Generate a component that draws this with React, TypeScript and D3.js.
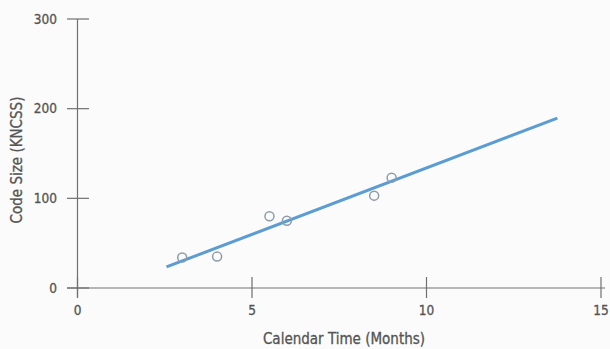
import React from "react";
import * as d3 from "d3";

const xTicks = [0, 5, 10, 15];
const yTicks = [0, 100, 200, 300];
const monthValues = [3, 4, 5.5, 6, 8.5, 9];
const codeSizeValues = [34, 35, 80, 75, 103, 123];
const fitMonths = [2.55, 13.75];
const fitSizes = [23.5, 189.5];

const W = 610;
const H = 349;
const FONT = "'DejaVu Sans Condensed', 'DejaVu Sans', sans-serif";
const TEXT = "#555555";
const AXIS = "#707070";

export default function App() {
  const x = d3.scaleLinear().domain([0, 15]).range([77.5, 601]);
  const y = d3.scaleLinear().domain([0, 300]).range([288, 19]);

  const pts = monthValues.map((m, i) => ({ m, v: codeSizeValues[i] }));
  const fit = fitMonths.map((m, i) => ({ m, v: fitSizes[i] }));
  const line = d3
    .line<{ m: number; v: number }>()
    .x((d) => x(d.m))
    .y((d) => y(d.v));

  const textStyle = { fill: TEXT, stroke: TEXT, strokeWidth: 0.3 };

  return (
    <svg
      width={W}
      height={H}
      style={{ position: "absolute", left: 0, top: 0, background: "#fbfbfb" }}
      fontFamily={FONT}
      fontStretch="condensed"
    >
      {/* axes */}
      <line x1={67} x2={605} y1={y(0)} y2={y(0)} stroke={AXIS} strokeWidth={1.2} />
      <line x1={x(0)} x2={x(0)} y1={y(300)} y2={297} stroke={AXIS} strokeWidth={1.2} />
      {yTicks.map((t) => (
        <g key={"y" + t}>
          <line x1={67} x2={89} y1={y(t)} y2={y(t)} stroke={AXIS} strokeWidth={1.2} />
          <text
            x={57}
            y={y(t)}
            dy="0.35em"
            textAnchor="end"
            fontSize={13.5}
            style={textStyle}
          >
            {t}
          </text>
        </g>
      ))}
      {xTicks.map((t) => (
        <g key={"x" + t}>
          <line x1={x(t)} x2={x(t)} y1={277} y2={298} stroke={AXIS} strokeWidth={1.2} />
          <text x={x(t)} y={315} textAnchor="middle" fontSize={13.5} style={textStyle}>
            {t}
          </text>
        </g>
      ))}
      <text x={344} y={344} textAnchor="middle" fontSize={15} style={textStyle}>
        Calendar Time (Months)
      </text>
      <text
        transform={`translate(22,160) rotate(-90)`}
        textAnchor="middle"
        fontSize={15}
        style={textStyle}
      >
        Code Size (KNCSS)
      </text>
      {/* fit line */}
      <path d={line(fit) || ""} fill="none" stroke="#5b9cd2" strokeWidth={3} strokeLinecap="butt" />
      {/* data points */}
      {pts.map((p, i) => (
        <circle
          key={i}
          cx={x(p.m)}
          cy={y(p.v)}
          r={4.5}
          fill="none"
          stroke="#8d9ca8"
          strokeWidth={1.5}
        />
      ))}
    </svg>
  );
}
